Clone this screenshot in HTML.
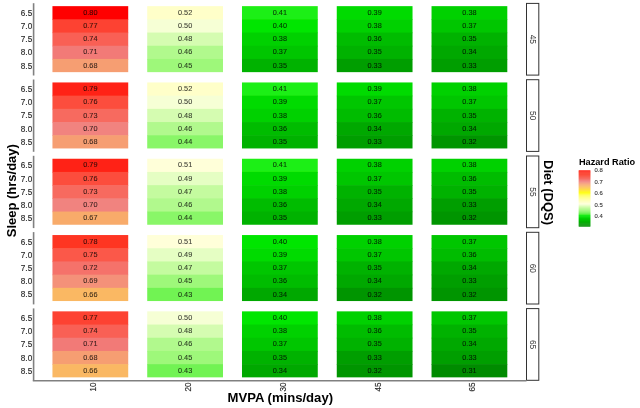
<!DOCTYPE html><html><head><meta charset="utf-8"><style>html,body{margin:0;padding:0;background:#fff;}svg{display:block}text{font-family:"Liberation Sans",Arial,sans-serif}.t{font-size:7.3px;fill:#000;fill-opacity:.75;stroke:#000;stroke-opacity:.6;stroke-width:.12px;text-anchor:middle}.yl{font-size:8.2px;fill:#2a2a2a;text-anchor:end;stroke:#2a2a2a;stroke-width:.15px}.xl{font-size:8.2px;fill:#2a2a2a;text-anchor:end;stroke:#2a2a2a;stroke-width:.15px}.st{font-size:8.3px;fill:#333;text-anchor:middle}.lg{font-size:5.9px;fill:#333;stroke:#333;stroke-width:.1px}</style></head><body>
<svg width="640" height="408" viewBox="0 0 640 408">
<rect width="640" height="408" fill="#fff"/>
<defs><filter id="b" x="-5%" y="-5%" width="110%" height="110%"><feGaussianBlur stdDeviation="0.45"/></filter></defs>
<g filter="url(#b)">
<rect x="52.45" y="6.15" width="75.77" height="13.80" fill="#FF0000"/>
<rect x="52.45" y="19.35" width="75.77" height="13.80" fill="#FD4330"/>
<rect x="52.45" y="32.55" width="75.77" height="13.80" fill="#F96154"/>
<rect x="52.45" y="45.75" width="75.77" height="13.80" fill="#F27A77"/>
<rect x="52.45" y="58.95" width="75.77" height="13.20" fill="#F69E72"/>
<rect x="147.22" y="6.15" width="75.77" height="13.80" fill="#FFFFC9"/>
<rect x="147.22" y="19.35" width="75.77" height="13.80" fill="#F6FFD5"/>
<rect x="147.22" y="32.55" width="75.77" height="13.80" fill="#D5FCB1"/>
<rect x="147.22" y="45.75" width="75.77" height="13.80" fill="#B1F98D"/>
<rect x="147.22" y="58.95" width="75.77" height="13.20" fill="#9EF87A"/>
<rect x="241.99" y="6.15" width="75.77" height="13.80" fill="#1FEF12"/>
<rect x="241.99" y="19.35" width="75.77" height="13.80" fill="#00E600"/>
<rect x="241.99" y="32.55" width="75.77" height="13.80" fill="#00D100"/>
<rect x="241.99" y="45.75" width="75.77" height="13.80" fill="#00C600"/>
<rect x="241.99" y="58.95" width="75.77" height="13.20" fill="#00B200"/>
<rect x="336.76" y="6.15" width="75.77" height="13.80" fill="#00DB00"/>
<rect x="336.76" y="19.35" width="75.77" height="13.80" fill="#00D100"/>
<rect x="336.76" y="32.55" width="75.77" height="13.80" fill="#00BC00"/>
<rect x="336.76" y="45.75" width="75.77" height="13.80" fill="#00B200"/>
<rect x="336.76" y="58.95" width="75.77" height="13.20" fill="#009E00"/>
<rect x="431.53" y="6.15" width="75.77" height="13.80" fill="#00D100"/>
<rect x="431.53" y="19.35" width="75.77" height="13.80" fill="#00C600"/>
<rect x="431.53" y="32.55" width="75.77" height="13.80" fill="#00B200"/>
<rect x="431.53" y="45.75" width="75.77" height="13.80" fill="#00A800"/>
<rect x="431.53" y="58.95" width="75.77" height="13.20" fill="#009E00"/>
<text class="t" x="90.34" y="14.85">0.80</text>
<text class="t" x="90.34" y="28.05">0.77</text>
<text class="t" x="90.34" y="41.25">0.74</text>
<text class="t" x="90.34" y="54.45">0.71</text>
<text class="t" x="90.34" y="67.65">0.68</text>
<text class="t" x="185.10" y="14.85">0.52</text>
<text class="t" x="185.10" y="28.05">0.50</text>
<text class="t" x="185.10" y="41.25">0.48</text>
<text class="t" x="185.10" y="54.45">0.46</text>
<text class="t" x="185.10" y="67.65">0.45</text>
<text class="t" x="279.88" y="14.85">0.41</text>
<text class="t" x="279.88" y="28.05">0.40</text>
<text class="t" x="279.88" y="41.25">0.38</text>
<text class="t" x="279.88" y="54.45">0.37</text>
<text class="t" x="279.88" y="67.65">0.35</text>
<text class="t" x="374.64" y="14.85">0.39</text>
<text class="t" x="374.64" y="28.05">0.38</text>
<text class="t" x="374.64" y="41.25">0.36</text>
<text class="t" x="374.64" y="54.45">0.35</text>
<text class="t" x="374.64" y="67.65">0.33</text>
<text class="t" x="469.41" y="14.85">0.38</text>
<text class="t" x="469.41" y="28.05">0.37</text>
<text class="t" x="469.41" y="41.25">0.35</text>
<text class="t" x="469.41" y="54.45">0.34</text>
<text class="t" x="469.41" y="67.65">0.33</text>
<text class="yl" x="32.20" y="15.75">6.5</text>
<text class="yl" x="32.20" y="28.95">7.0</text>
<text class="yl" x="32.20" y="42.15">7.5</text>
<text class="yl" x="32.20" y="55.35">8.0</text>
<text class="yl" x="32.20" y="68.55">8.5</text>
<line x1="33.60" y1="3.20" x2="33.60" y2="75.50" stroke="#808080" stroke-width="1.6"/>
<rect x="526.50" y="3.40" width="12.30" height="71.70" fill="#fff" stroke="#333" stroke-width="1"/>
<text class="st" x="532.65" y="42.45" transform="rotate(90 532.65 39.35)">45</text>
<rect x="52.45" y="82.45" width="75.77" height="13.80" fill="#FF2415"/>
<rect x="52.45" y="95.65" width="75.77" height="13.80" fill="#FC4E3D"/>
<rect x="52.45" y="108.85" width="75.77" height="13.80" fill="#F76A5F"/>
<rect x="52.45" y="122.05" width="75.77" height="13.80" fill="#F1837F"/>
<rect x="52.45" y="135.25" width="75.77" height="13.20" fill="#F69E72"/>
<rect x="147.22" y="82.45" width="75.77" height="13.80" fill="#FFFFC9"/>
<rect x="147.22" y="95.65" width="75.77" height="13.80" fill="#F6FFD5"/>
<rect x="147.22" y="108.85" width="75.77" height="13.80" fill="#D5FCB1"/>
<rect x="147.22" y="122.05" width="75.77" height="13.80" fill="#B1F98D"/>
<rect x="147.22" y="135.25" width="75.77" height="13.20" fill="#89F667"/>
<rect x="241.99" y="82.45" width="75.77" height="13.80" fill="#1FEF12"/>
<rect x="241.99" y="95.65" width="75.77" height="13.80" fill="#00DB00"/>
<rect x="241.99" y="108.85" width="75.77" height="13.80" fill="#00D100"/>
<rect x="241.99" y="122.05" width="75.77" height="13.80" fill="#00BC00"/>
<rect x="241.99" y="135.25" width="75.77" height="13.20" fill="#00B200"/>
<rect x="336.76" y="82.45" width="75.77" height="13.80" fill="#00DB00"/>
<rect x="336.76" y="95.65" width="75.77" height="13.80" fill="#00C600"/>
<rect x="336.76" y="108.85" width="75.77" height="13.80" fill="#00BC00"/>
<rect x="336.76" y="122.05" width="75.77" height="13.80" fill="#00A800"/>
<rect x="336.76" y="135.25" width="75.77" height="13.20" fill="#009E00"/>
<rect x="431.53" y="82.45" width="75.77" height="13.80" fill="#00D100"/>
<rect x="431.53" y="95.65" width="75.77" height="13.80" fill="#00C600"/>
<rect x="431.53" y="108.85" width="75.77" height="13.80" fill="#00B200"/>
<rect x="431.53" y="122.05" width="75.77" height="13.80" fill="#00A800"/>
<rect x="431.53" y="135.25" width="75.77" height="13.20" fill="#009500"/>
<text class="t" x="90.34" y="91.15">0.79</text>
<text class="t" x="90.34" y="104.35">0.76</text>
<text class="t" x="90.34" y="117.55">0.73</text>
<text class="t" x="90.34" y="130.75">0.70</text>
<text class="t" x="90.34" y="143.95">0.68</text>
<text class="t" x="185.10" y="91.15">0.52</text>
<text class="t" x="185.10" y="104.35">0.50</text>
<text class="t" x="185.10" y="117.55">0.48</text>
<text class="t" x="185.10" y="130.75">0.46</text>
<text class="t" x="185.10" y="143.95">0.44</text>
<text class="t" x="279.88" y="91.15">0.41</text>
<text class="t" x="279.88" y="104.35">0.39</text>
<text class="t" x="279.88" y="117.55">0.38</text>
<text class="t" x="279.88" y="130.75">0.36</text>
<text class="t" x="279.88" y="143.95">0.35</text>
<text class="t" x="374.64" y="91.15">0.39</text>
<text class="t" x="374.64" y="104.35">0.37</text>
<text class="t" x="374.64" y="117.55">0.36</text>
<text class="t" x="374.64" y="130.75">0.34</text>
<text class="t" x="374.64" y="143.95">0.33</text>
<text class="t" x="469.41" y="91.15">0.38</text>
<text class="t" x="469.41" y="104.35">0.37</text>
<text class="t" x="469.41" y="117.55">0.35</text>
<text class="t" x="469.41" y="130.75">0.34</text>
<text class="t" x="469.41" y="143.95">0.32</text>
<text class="yl" x="32.20" y="92.05">6.5</text>
<text class="yl" x="32.20" y="105.25">7.0</text>
<text class="yl" x="32.20" y="118.45">7.5</text>
<text class="yl" x="32.20" y="131.65">8.0</text>
<text class="yl" x="32.20" y="144.85">8.5</text>
<line x1="33.60" y1="79.50" x2="33.60" y2="151.80" stroke="#808080" stroke-width="1.6"/>
<rect x="526.50" y="79.70" width="12.30" height="71.70" fill="#fff" stroke="#333" stroke-width="1"/>
<text class="st" x="532.65" y="118.75" transform="rotate(90 532.65 115.65)">50</text>
<rect x="52.45" y="158.75" width="75.77" height="13.80" fill="#FF2415"/>
<rect x="52.45" y="171.95" width="75.77" height="13.80" fill="#FC4E3D"/>
<rect x="52.45" y="185.15" width="75.77" height="13.80" fill="#F76A5F"/>
<rect x="52.45" y="198.35" width="75.77" height="13.80" fill="#F1837F"/>
<rect x="52.45" y="211.55" width="75.77" height="13.20" fill="#F8AB6B"/>
<rect x="147.22" y="158.75" width="75.77" height="13.80" fill="#FFFFD9"/>
<rect x="147.22" y="171.95" width="75.77" height="13.80" fill="#E5FEC3"/>
<rect x="147.22" y="185.15" width="75.77" height="13.80" fill="#C4FB9F"/>
<rect x="147.22" y="198.35" width="75.77" height="13.80" fill="#B1F98D"/>
<rect x="147.22" y="211.55" width="75.77" height="13.20" fill="#89F667"/>
<rect x="241.99" y="158.75" width="75.77" height="13.80" fill="#1FEF12"/>
<rect x="241.99" y="171.95" width="75.77" height="13.80" fill="#00DB00"/>
<rect x="241.99" y="185.15" width="75.77" height="13.80" fill="#00D100"/>
<rect x="241.99" y="198.35" width="75.77" height="13.80" fill="#00BC00"/>
<rect x="241.99" y="211.55" width="75.77" height="13.20" fill="#00B200"/>
<rect x="336.76" y="158.75" width="75.77" height="13.80" fill="#00D100"/>
<rect x="336.76" y="171.95" width="75.77" height="13.80" fill="#00C600"/>
<rect x="336.76" y="185.15" width="75.77" height="13.80" fill="#00B200"/>
<rect x="336.76" y="198.35" width="75.77" height="13.80" fill="#00A800"/>
<rect x="336.76" y="211.55" width="75.77" height="13.20" fill="#009E00"/>
<rect x="431.53" y="158.75" width="75.77" height="13.80" fill="#00D100"/>
<rect x="431.53" y="171.95" width="75.77" height="13.80" fill="#00BC00"/>
<rect x="431.53" y="185.15" width="75.77" height="13.80" fill="#00B200"/>
<rect x="431.53" y="198.35" width="75.77" height="13.80" fill="#009E00"/>
<rect x="431.53" y="211.55" width="75.77" height="13.20" fill="#009500"/>
<text class="t" x="90.34" y="167.45">0.79</text>
<text class="t" x="90.34" y="180.65">0.76</text>
<text class="t" x="90.34" y="193.85">0.73</text>
<text class="t" x="90.34" y="207.05">0.70</text>
<text class="t" x="90.34" y="220.25">0.67</text>
<text class="t" x="185.10" y="167.45">0.51</text>
<text class="t" x="185.10" y="180.65">0.49</text>
<text class="t" x="185.10" y="193.85">0.47</text>
<text class="t" x="185.10" y="207.05">0.46</text>
<text class="t" x="185.10" y="220.25">0.44</text>
<text class="t" x="279.88" y="167.45">0.41</text>
<text class="t" x="279.88" y="180.65">0.39</text>
<text class="t" x="279.88" y="193.85">0.38</text>
<text class="t" x="279.88" y="207.05">0.36</text>
<text class="t" x="279.88" y="220.25">0.35</text>
<text class="t" x="374.64" y="167.45">0.38</text>
<text class="t" x="374.64" y="180.65">0.37</text>
<text class="t" x="374.64" y="193.85">0.35</text>
<text class="t" x="374.64" y="207.05">0.34</text>
<text class="t" x="374.64" y="220.25">0.33</text>
<text class="t" x="469.41" y="167.45">0.38</text>
<text class="t" x="469.41" y="180.65">0.36</text>
<text class="t" x="469.41" y="193.85">0.35</text>
<text class="t" x="469.41" y="207.05">0.33</text>
<text class="t" x="469.41" y="220.25">0.32</text>
<text class="yl" x="32.20" y="168.35">6.5</text>
<text class="yl" x="32.20" y="181.55">7.0</text>
<text class="yl" x="32.20" y="194.75">7.5</text>
<text class="yl" x="32.20" y="207.95">8.0</text>
<text class="yl" x="32.20" y="221.15">8.5</text>
<line x1="33.60" y1="155.80" x2="33.60" y2="228.10" stroke="#808080" stroke-width="1.6"/>
<rect x="526.50" y="156.00" width="12.30" height="71.70" fill="#fff" stroke="#333" stroke-width="1"/>
<text class="st" x="532.65" y="195.05" transform="rotate(90 532.65 191.95)">55</text>
<rect x="52.45" y="235.05" width="75.77" height="13.80" fill="#FE3524"/>
<rect x="52.45" y="248.25" width="75.77" height="13.80" fill="#FB5848"/>
<rect x="52.45" y="261.45" width="75.77" height="13.80" fill="#F5726B"/>
<rect x="52.45" y="274.65" width="75.77" height="13.80" fill="#F49179"/>
<rect x="52.45" y="287.85" width="75.77" height="13.20" fill="#FAB864"/>
<rect x="147.22" y="235.05" width="75.77" height="13.80" fill="#FFFFD9"/>
<rect x="147.22" y="248.25" width="75.77" height="13.80" fill="#E5FEC3"/>
<rect x="147.22" y="261.45" width="75.77" height="13.80" fill="#C4FB9F"/>
<rect x="147.22" y="274.65" width="75.77" height="13.80" fill="#9EF87A"/>
<rect x="147.22" y="287.85" width="75.77" height="13.20" fill="#71F352"/>
<rect x="241.99" y="235.05" width="75.77" height="13.80" fill="#00E600"/>
<rect x="241.99" y="248.25" width="75.77" height="13.80" fill="#00DB00"/>
<rect x="241.99" y="261.45" width="75.77" height="13.80" fill="#00C600"/>
<rect x="241.99" y="274.65" width="75.77" height="13.80" fill="#00BC00"/>
<rect x="241.99" y="287.85" width="75.77" height="13.20" fill="#00A800"/>
<rect x="336.76" y="235.05" width="75.77" height="13.80" fill="#00D100"/>
<rect x="336.76" y="248.25" width="75.77" height="13.80" fill="#00C600"/>
<rect x="336.76" y="261.45" width="75.77" height="13.80" fill="#00B200"/>
<rect x="336.76" y="274.65" width="75.77" height="13.80" fill="#00A800"/>
<rect x="336.76" y="287.85" width="75.77" height="13.20" fill="#009500"/>
<rect x="431.53" y="235.05" width="75.77" height="13.80" fill="#00C600"/>
<rect x="431.53" y="248.25" width="75.77" height="13.80" fill="#00BC00"/>
<rect x="431.53" y="261.45" width="75.77" height="13.80" fill="#00A800"/>
<rect x="431.53" y="274.65" width="75.77" height="13.80" fill="#009E00"/>
<rect x="431.53" y="287.85" width="75.77" height="13.20" fill="#009500"/>
<text class="t" x="90.34" y="243.75">0.78</text>
<text class="t" x="90.34" y="256.95">0.75</text>
<text class="t" x="90.34" y="270.15">0.72</text>
<text class="t" x="90.34" y="283.35">0.69</text>
<text class="t" x="90.34" y="296.55">0.66</text>
<text class="t" x="185.10" y="243.75">0.51</text>
<text class="t" x="185.10" y="256.95">0.49</text>
<text class="t" x="185.10" y="270.15">0.47</text>
<text class="t" x="185.10" y="283.35">0.45</text>
<text class="t" x="185.10" y="296.55">0.43</text>
<text class="t" x="279.88" y="243.75">0.40</text>
<text class="t" x="279.88" y="256.95">0.39</text>
<text class="t" x="279.88" y="270.15">0.37</text>
<text class="t" x="279.88" y="283.35">0.36</text>
<text class="t" x="279.88" y="296.55">0.34</text>
<text class="t" x="374.64" y="243.75">0.38</text>
<text class="t" x="374.64" y="256.95">0.37</text>
<text class="t" x="374.64" y="270.15">0.35</text>
<text class="t" x="374.64" y="283.35">0.34</text>
<text class="t" x="374.64" y="296.55">0.32</text>
<text class="t" x="469.41" y="243.75">0.37</text>
<text class="t" x="469.41" y="256.95">0.36</text>
<text class="t" x="469.41" y="270.15">0.34</text>
<text class="t" x="469.41" y="283.35">0.33</text>
<text class="t" x="469.41" y="296.55">0.32</text>
<text class="yl" x="32.20" y="244.65">6.5</text>
<text class="yl" x="32.20" y="257.85">7.0</text>
<text class="yl" x="32.20" y="271.05">7.5</text>
<text class="yl" x="32.20" y="284.25">8.0</text>
<text class="yl" x="32.20" y="297.45">8.5</text>
<line x1="33.60" y1="232.10" x2="33.60" y2="304.40" stroke="#808080" stroke-width="1.6"/>
<rect x="526.50" y="232.30" width="12.30" height="71.70" fill="#fff" stroke="#333" stroke-width="1"/>
<text class="st" x="532.65" y="271.35" transform="rotate(90 532.65 268.25)">60</text>
<rect x="52.45" y="311.35" width="75.77" height="13.80" fill="#FD4330"/>
<rect x="52.45" y="324.55" width="75.77" height="13.80" fill="#F96154"/>
<rect x="52.45" y="337.75" width="75.77" height="13.80" fill="#F27A77"/>
<rect x="52.45" y="350.95" width="75.77" height="13.80" fill="#F69E72"/>
<rect x="52.45" y="364.15" width="75.77" height="13.20" fill="#FAB864"/>
<rect x="147.22" y="311.35" width="75.77" height="13.80" fill="#F6FFD5"/>
<rect x="147.22" y="324.55" width="75.77" height="13.80" fill="#D5FCB1"/>
<rect x="147.22" y="337.75" width="75.77" height="13.80" fill="#B1F98D"/>
<rect x="147.22" y="350.95" width="75.77" height="13.80" fill="#9EF87A"/>
<rect x="147.22" y="364.15" width="75.77" height="13.20" fill="#71F352"/>
<rect x="241.99" y="311.35" width="75.77" height="13.80" fill="#00E600"/>
<rect x="241.99" y="324.55" width="75.77" height="13.80" fill="#00D100"/>
<rect x="241.99" y="337.75" width="75.77" height="13.80" fill="#00C600"/>
<rect x="241.99" y="350.95" width="75.77" height="13.80" fill="#00B200"/>
<rect x="241.99" y="364.15" width="75.77" height="13.20" fill="#00A800"/>
<rect x="336.76" y="311.35" width="75.77" height="13.80" fill="#00D100"/>
<rect x="336.76" y="324.55" width="75.77" height="13.80" fill="#00BC00"/>
<rect x="336.76" y="337.75" width="75.77" height="13.80" fill="#00B200"/>
<rect x="336.76" y="350.95" width="75.77" height="13.80" fill="#009E00"/>
<rect x="336.76" y="364.15" width="75.77" height="13.20" fill="#009500"/>
<rect x="431.53" y="311.35" width="75.77" height="13.80" fill="#00C600"/>
<rect x="431.53" y="324.55" width="75.77" height="13.80" fill="#00B200"/>
<rect x="431.53" y="337.75" width="75.77" height="13.80" fill="#00A800"/>
<rect x="431.53" y="350.95" width="75.77" height="13.80" fill="#009E00"/>
<rect x="431.53" y="364.15" width="75.77" height="13.20" fill="#008B00"/>
<text class="t" x="90.34" y="320.05">0.77</text>
<text class="t" x="90.34" y="333.25">0.74</text>
<text class="t" x="90.34" y="346.45">0.71</text>
<text class="t" x="90.34" y="359.65">0.68</text>
<text class="t" x="90.34" y="372.85">0.66</text>
<text class="t" x="185.10" y="320.05">0.50</text>
<text class="t" x="185.10" y="333.25">0.48</text>
<text class="t" x="185.10" y="346.45">0.46</text>
<text class="t" x="185.10" y="359.65">0.45</text>
<text class="t" x="185.10" y="372.85">0.43</text>
<text class="t" x="279.88" y="320.05">0.40</text>
<text class="t" x="279.88" y="333.25">0.38</text>
<text class="t" x="279.88" y="346.45">0.37</text>
<text class="t" x="279.88" y="359.65">0.35</text>
<text class="t" x="279.88" y="372.85">0.34</text>
<text class="t" x="374.64" y="320.05">0.38</text>
<text class="t" x="374.64" y="333.25">0.36</text>
<text class="t" x="374.64" y="346.45">0.35</text>
<text class="t" x="374.64" y="359.65">0.33</text>
<text class="t" x="374.64" y="372.85">0.32</text>
<text class="t" x="469.41" y="320.05">0.37</text>
<text class="t" x="469.41" y="333.25">0.35</text>
<text class="t" x="469.41" y="346.45">0.34</text>
<text class="t" x="469.41" y="359.65">0.33</text>
<text class="t" x="469.41" y="372.85">0.31</text>
<text class="yl" x="32.20" y="320.95">6.5</text>
<text class="yl" x="32.20" y="334.15">7.0</text>
<text class="yl" x="32.20" y="347.35">7.5</text>
<text class="yl" x="32.20" y="360.55">8.0</text>
<text class="yl" x="32.20" y="373.75">8.5</text>
<line x1="33.60" y1="308.40" x2="33.60" y2="380.70" stroke="#808080" stroke-width="1.6"/>
<rect x="526.50" y="308.60" width="12.30" height="71.70" fill="#fff" stroke="#333" stroke-width="1"/>
<text class="st" x="532.65" y="347.65" transform="rotate(90 532.65 344.55)">65</text>
<line x1="32.80" y1="380.70" x2="526.50" y2="380.70" stroke="#808080" stroke-width="1.6"/>
<text class="xl" x="96.34" y="382.50" transform="rotate(-90 96.34 382.50)">10</text>
<text class="xl" x="191.10" y="382.50" transform="rotate(-90 191.10 382.50)">20</text>
<text class="xl" x="285.88" y="382.50" transform="rotate(-90 285.88 382.50)">30</text>
<text class="xl" x="380.64" y="382.50" transform="rotate(-90 380.64 382.50)">45</text>
<text class="xl" x="475.41" y="382.50" transform="rotate(-90 475.41 382.50)">65</text>
<text x="280.30" y="401.60" font-size="13.1" font-weight="bold" fill="#000" text-anchor="middle">MVPA (mins/day)</text>
<text x="16.00" y="190.70" font-size="13" font-weight="bold" fill="#000" text-anchor="middle" transform="rotate(-90 16.00 190.70)">Sleep (hrs/day)</text>
<text x="544.00" y="192.60" font-size="13" font-weight="bold" fill="#000" text-anchor="middle" transform="rotate(90 544.00 192.60)">Diet (DQS)</text>
<text x="578.90" y="164.50" font-size="9.2" font-weight="bold" fill="#000">Hazard Ratio</text>
<rect x="578.70" y="170.30" width="11.70" height="1.235" fill="#FF1409"/>
<rect x="578.70" y="171.24" width="11.70" height="1.235" fill="#FE2918"/>
<rect x="578.70" y="172.17" width="11.70" height="1.235" fill="#FE3624"/>
<rect x="578.70" y="173.11" width="11.70" height="1.235" fill="#FD412F"/>
<rect x="578.70" y="174.04" width="11.70" height="1.235" fill="#FC4A39"/>
<rect x="578.70" y="174.98" width="11.70" height="1.235" fill="#FC5342"/>
<rect x="578.70" y="175.91" width="11.70" height="1.235" fill="#FA5B4C"/>
<rect x="578.70" y="176.84" width="11.70" height="1.235" fill="#F96255"/>
<rect x="578.70" y="177.78" width="11.70" height="1.235" fill="#F7695F"/>
<rect x="578.70" y="178.72" width="11.70" height="1.235" fill="#F67068"/>
<rect x="578.70" y="179.65" width="11.70" height="1.235" fill="#F47772"/>
<rect x="578.70" y="180.59" width="11.70" height="1.235" fill="#F17D7B"/>
<rect x="578.70" y="181.52" width="11.70" height="1.235" fill="#F1867E"/>
<rect x="578.70" y="182.46" width="11.70" height="1.235" fill="#F49179"/>
<rect x="578.70" y="183.39" width="11.70" height="1.235" fill="#F69C73"/>
<rect x="578.70" y="184.33" width="11.70" height="1.235" fill="#F8A76E"/>
<rect x="578.70" y="185.26" width="11.70" height="1.235" fill="#F9B168"/>
<rect x="578.70" y="186.20" width="11.70" height="1.235" fill="#FBBC61"/>
<rect x="578.70" y="187.13" width="11.70" height="1.235" fill="#FCC65A"/>
<rect x="578.70" y="188.06" width="11.70" height="1.235" fill="#FDD152"/>
<rect x="578.70" y="189.00" width="11.70" height="1.235" fill="#FEDB48"/>
<rect x="578.70" y="189.94" width="11.70" height="1.235" fill="#FFE53D"/>
<rect x="578.70" y="190.87" width="11.70" height="1.235" fill="#FFF02F"/>
<rect x="578.70" y="191.81" width="11.70" height="1.235" fill="#FFFA19"/>
<rect x="578.70" y="192.74" width="11.70" height="1.235" fill="#FFFF21"/>
<rect x="578.70" y="193.68" width="11.70" height="1.235" fill="#FFFF3F"/>
<rect x="578.70" y="194.61" width="11.70" height="1.235" fill="#FFFF54"/>
<rect x="578.70" y="195.55" width="11.70" height="1.235" fill="#FFFF66"/>
<rect x="578.70" y="196.48" width="11.70" height="1.235" fill="#FFFF76"/>
<rect x="578.70" y="197.42" width="11.70" height="1.235" fill="#FFFF86"/>
<rect x="578.70" y="198.35" width="11.70" height="1.235" fill="#FFFF94"/>
<rect x="578.70" y="199.29" width="11.70" height="1.235" fill="#FFFFA2"/>
<rect x="578.70" y="200.22" width="11.70" height="1.235" fill="#FFFFB0"/>
<rect x="578.70" y="201.16" width="11.70" height="1.235" fill="#FFFFBE"/>
<rect x="578.70" y="202.09" width="11.70" height="1.235" fill="#FFFFCC"/>
<rect x="578.70" y="203.03" width="11.70" height="1.235" fill="#FFFFD9"/>
<rect x="578.70" y="203.96" width="11.70" height="1.235" fill="#F9FFD9"/>
<rect x="578.70" y="204.90" width="11.70" height="1.235" fill="#ECFECA"/>
<rect x="578.70" y="205.83" width="11.70" height="1.235" fill="#DEFDBB"/>
<rect x="578.70" y="206.77" width="11.70" height="1.235" fill="#D0FCAD"/>
<rect x="578.70" y="207.70" width="11.70" height="1.235" fill="#C2FB9E"/>
<rect x="578.70" y="208.64" width="11.70" height="1.235" fill="#B3FA8F"/>
<rect x="578.70" y="209.57" width="11.70" height="1.235" fill="#A4F880"/>
<rect x="578.70" y="210.51" width="11.70" height="1.235" fill="#93F770"/>
<rect x="578.70" y="211.44" width="11.70" height="1.235" fill="#81F560"/>
<rect x="578.70" y="212.38" width="11.70" height="1.235" fill="#6CF34E"/>
<rect x="578.70" y="213.31" width="11.70" height="1.235" fill="#53F13A"/>
<rect x="578.70" y="214.25" width="11.70" height="1.235" fill="#2FEF1E"/>
<rect x="578.70" y="215.18" width="11.70" height="1.235" fill="#00EA00"/>
<rect x="578.70" y="216.12" width="11.70" height="1.235" fill="#00E100"/>
<rect x="578.70" y="217.05" width="11.70" height="1.235" fill="#00D900"/>
<rect x="578.70" y="217.99" width="11.70" height="1.235" fill="#00D000"/>
<rect x="578.70" y="218.92" width="11.70" height="1.235" fill="#00C800"/>
<rect x="578.70" y="219.86" width="11.70" height="1.235" fill="#00BF00"/>
<rect x="578.70" y="220.79" width="11.70" height="1.235" fill="#00B700"/>
<rect x="578.70" y="221.73" width="11.70" height="1.235" fill="#00AF00"/>
<rect x="578.70" y="222.66" width="11.70" height="1.235" fill="#00A700"/>
<rect x="578.70" y="223.60" width="11.70" height="1.235" fill="#009F00"/>
<rect x="578.70" y="224.53" width="11.70" height="1.235" fill="#009700"/>
<rect x="578.70" y="225.47" width="11.70" height="1.235" fill="#008F00"/>
<text class="lg" x="594.60" y="172.30">0.8</text>
<text class="lg" x="594.60" y="183.75">0.7</text>
<text class="lg" x="594.60" y="195.20">0.6</text>
<text class="lg" x="594.60" y="206.65">0.5</text>
<text class="lg" x="594.60" y="218.10">0.4</text>
</g></svg></body></html>
